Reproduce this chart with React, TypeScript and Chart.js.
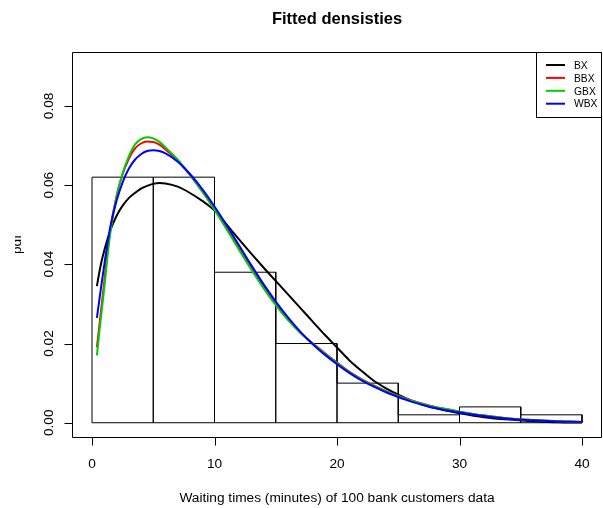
import React, { useEffect, useRef } from 'react';
import { Chart, registerables } from 'chart.js';

Chart.register(...registerables);

const chartTitle = 'Fitted densisties';
const xAxisTitle = 'Waiting times (minutes) of 100 bank customers data';
const yAxisTitle = 'pdf';

const binEdges = [0, 5, 10, 15, 20, 25, 30, 35, 40];
const binDensity = [0.062, 0.062, 0.038, 0.02, 0.01, 0.002, 0.004, 0.002];

const xTicks = [0, 10, 20, 30, 40];
const xTickLabels = ['0', '10', '20', '30', '40'];
const yTicks = [0, 0.02, 0.04, 0.06, 0.08];
const yTickLabels = ['0.00', '0.02', '0.04', '0.06', '0.08'];

const gridX = [0.4, 0.6, 0.8, 1, 1.25, 1.5, 2, 2.5, 3, 3.5, 4, 4.5, 5, 5.5, 6, 7, 8, 9, 10, 11, 12, 13, 14, 15, 16, 17, 18, 19, 20, 21, 22, 23, 24, 25, 26, 27, 28, 29, 30, 32, 34, 36, 38, 40];

const bxValues = [0.0345, 0.038, 0.041, 0.0435, 0.0462, 0.0486, 0.0522, 0.0548, 0.0567, 0.058, 0.0591, 0.0598, 0.0603, 0.0605, 0.0604, 0.0596, 0.058, 0.056, 0.0536, 0.05, 0.0463, 0.0427, 0.0392, 0.0358, 0.0324, 0.029, 0.0256, 0.0222, 0.019, 0.0158, 0.0131, 0.0106, 0.0087, 0.0071, 0.0057, 0.0046, 0.0037, 0.003, 0.0024, 0.0014, 0.0008, 0.0004, 0.0001, 0.00003];
const bbxValues = [0.019, 0.0245, 0.03, 0.0355, 0.0428, 0.049, 0.0572, 0.0628, 0.0666, 0.0692, 0.0705, 0.071, 0.0709, 0.0702, 0.069, 0.0662, 0.0625, 0.0584, 0.0539, 0.049, 0.044, 0.039, 0.0343, 0.03, 0.0261, 0.0228, 0.0201, 0.0176, 0.0152, 0.0129, 0.011, 0.0094, 0.008, 0.0068, 0.0057, 0.0048, 0.004, 0.0034, 0.0028, 0.0018, 0.0011, 0.0007, 0.0004, 0.0002];
const gbxValues = [0.017, 0.023, 0.0285, 0.034, 0.0415, 0.048, 0.057, 0.063, 0.0672, 0.0702, 0.0716, 0.0721, 0.0718, 0.0709, 0.0695, 0.0664, 0.0626, 0.0584, 0.0538, 0.0488, 0.0437, 0.0387, 0.034, 0.0297, 0.0259, 0.0227, 0.02, 0.0175, 0.0151, 0.0128, 0.0109, 0.0093, 0.0079, 0.0067, 0.0056, 0.0047, 0.004, 0.0034, 0.0028, 0.0018, 0.0011, 0.0007, 0.0004, 0.0002];
const wbxValues = [0.0265, 0.031, 0.0355, 0.0398, 0.045, 0.0495, 0.056, 0.0607, 0.0641, 0.0664, 0.0678, 0.0686, 0.0688, 0.0686, 0.068, 0.0659, 0.0628, 0.059, 0.0546, 0.0498, 0.0448, 0.0398, 0.035, 0.0306, 0.0266, 0.023, 0.0199, 0.0172, 0.0148, 0.0126, 0.0107, 0.0091, 0.0077, 0.0065, 0.0054, 0.0045, 0.0037, 0.0031, 0.0026, 0.0017, 0.001, 0.0006, 0.0003, 0.0002];

const seriesNames = ['BX', 'BBX', 'GBX', 'WBX'];
const seriesColors = ['#000000', '#FF0000', '#00CD00', '#0000FF'];
const seriesValues = [bxValues, bbxValues, gbxValues, wbxValues];

const FONT = '"Liberation Sans", Arial, sans-serif';

function histogramOutline() {
  const pts: { x: number; y: number }[] = [{ x: binEdges[0], y: 0 }];
  for (let i = 0; i < binDensity.length; i++) {
    pts.push({ x: binEdges[i], y: binDensity[i] });
    pts.push({ x: binEdges[i + 1], y: binDensity[i] });
    pts.push({ x: binEdges[i + 1], y: 0 });
  }
  pts.push({ x: binEdges[0], y: 0 });
  return pts;
}

const decorPlugin = {
  id: 'rdecor',
  beforeDraw(chart: any) {
    const ctx = chart.ctx;
    ctx.save();
    ctx.fillStyle = '#ffffff';
    ctx.fillRect(0, 0, chart.width, chart.height);
    ctx.restore();
  },
  afterDraw(chart: any) {
    const ctx = chart.ctx as CanvasRenderingContext2D;
    const { left, right, top, bottom } = chart.chartArea;
    const xs = chart.scales.x;
    const ys = chart.scales.y;
    const L = Math.floor(left) + 0.5;
    const R = Math.floor(right) + 0.5;
    const T = Math.floor(top) + 0.5;
    const B = Math.floor(bottom) + 0.5;
    ctx.save();
    ctx.strokeStyle = '#000';
    ctx.lineWidth = 1;
    ctx.beginPath();
    ctx.rect(L, T, R - L, B - T);
    ctx.stroke();

    // x ticks
    ctx.fillStyle = '#000';
    ctx.font = `13.7px ${FONT}`;
    ctx.textAlign = 'center';
    ctx.textBaseline = 'alphabetic';
    xTicks.forEach((v, i) => {
      const px = Math.round(xs.getPixelForValue(v)) + 0.5;
      ctx.beginPath();
      ctx.moveTo(px, B);
      ctx.lineTo(px, B + 8);
      ctx.stroke();
      ctx.fillText(xTickLabels[i], xs.getPixelForValue(v), 468);
    });
    // y ticks
    yTicks.forEach((v, i) => {
      const py = Math.round(ys.getPixelForValue(v)) + 0.5;
      ctx.beginPath();
      ctx.moveTo(L, py);
      ctx.lineTo(L - 8, py);
      ctx.stroke();
      ctx.save();
      ctx.translate(52.5, ys.getPixelForValue(v));
      ctx.rotate(-Math.PI / 2);
      ctx.fillText(yTickLabels[i], 0, 0);
      ctx.restore();
    });

    // axis titles
    ctx.fillText(xAxisTitle, (left + right) / 2, 502);
    ctx.save();
    ctx.beginPath();
    ctx.rect(15, 0, 60, chart.height);
    ctx.clip();
    ctx.translate(20.5, (top + bottom) / 2);
    ctx.rotate(-Math.PI / 2);
    ctx.fillText(yAxisTitle, 0, 0);
    ctx.restore();

    // main title
    ctx.font = `bold 16.5px ${FONT}`;
    ctx.fillText(chartTitle, (left + right) / 2, 24);

    // legend
    const lgL = 536.5;
    const lgT = T;
    const lgB = 117.5;
    ctx.fillStyle = '#ffffff';
    ctx.fillRect(lgL, lgT, R - lgL, lgB - lgT);
    ctx.strokeStyle = '#000';
    ctx.lineWidth = 1;
    ctx.strokeRect(lgL, lgT, R - lgL, lgB - lgT);
    ctx.font = `10.3px ${FONT}`;
    ctx.textAlign = 'left';
    seriesNames.forEach((name, i) => {
      const y = 65 + i * 12.9;
      ctx.strokeStyle = seriesColors[i];
      ctx.lineWidth = 2;
      ctx.beginPath();
      ctx.moveTo(546, y);
      ctx.lineTo(565, y);
      ctx.stroke();
      ctx.fillStyle = '#000';
      ctx.fillText(name, 574, y + 3.7);
    });
    ctx.restore();
  },
};

export default function App() {
  const ref = useRef<HTMLCanvasElement | null>(null);
  useEffect(() => {
    document.body.style.margin = '0';
    if (!ref.current) return;
    const datasets: any[] = [
      {
        label: 'hist',
        data: histogramOutline(),
        borderColor: '#000',
        borderWidth: 1,
        pointRadius: 0,
        tension: 0,
        fill: false,
        order: 10,
      },
    ];
    seriesNames.forEach((name, i) => {
      datasets.push({
        label: name,
        data: gridX.map((x, j) => ({ x, y: seriesValues[i][j] })),
        borderColor: seriesColors[i],
        borderWidth: 2,
        pointRadius: 0,
        cubicInterpolationMode: 'monotone',
        fill: false,
        order: 4 - i,
      });
    });
    const chart = new Chart(ref.current, {
      type: 'line',
      data: { datasets },
      options: {
        responsive: false,
        animation: false,
        devicePixelRatio: 1,
        layout: { padding: { left: 72.4, right: 1.4, top: 52, bottom: 71 } },
        plugins: { legend: { display: false }, title: { display: false }, tooltip: { enabled: false } },
        scales: {
          x: { type: 'linear', min: -1.6, max: 41.6, display: false },
          y: { type: 'linear', min: -0.0036, max: 0.0936, display: false },
        },
      },
      plugins: [decorPlugin],
    });
    return () => chart.destroy();
  }, []);
  return <canvas ref={ref} width={603} height={508} style={{ display: 'block', width: 603, height: 508 }} />;
}
